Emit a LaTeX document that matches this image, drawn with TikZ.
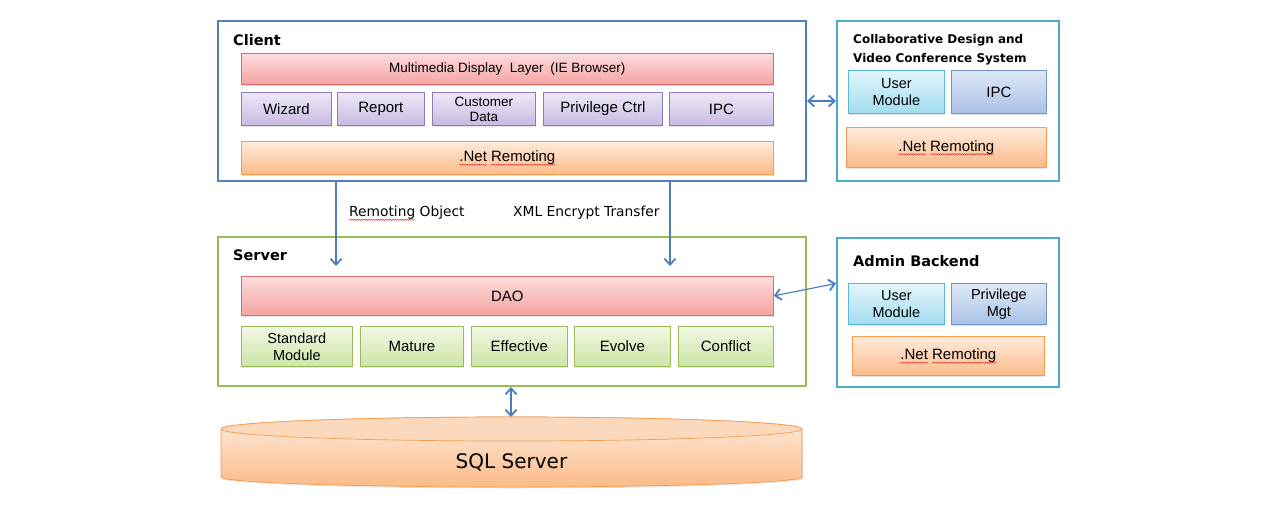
\documentclass[tikz,border=0pt]{standalone}
\usepackage{fontspec}
\setmainfont{Liberation Sans}
\newfontfamily\lucida{DejaVu Sans}
\usetikzlibrary{arrows.meta,shadows,decorations.pathmorphing}

\definecolor{clientblue}{HTML}{4F81BD}
\definecolor{systeal}{HTML}{4BACC6}
\definecolor{servergreen}{HTML}{9BBB59}
\definecolor{linkblue}{HTML}{4A7EC0}
\definecolor{spellred}{HTML}{E0302A}
\definecolor{redtop}{HTML}{FCDCDC}
\definecolor{redbot}{HTML}{F5A3A3}
\definecolor{redline}{HTML}{E06A6A}
\definecolor{purpletop}{HTML}{EEE8F7}
\definecolor{purplebot}{HTML}{C9BAE2}
\definecolor{purpleline}{HTML}{8C7DB8}
\definecolor{orangetop}{HTML}{FEEBDC}
\definecolor{orangebot}{HTML}{FBBB88}
\definecolor{orangeline}{HTML}{F59A4F}
\definecolor{greentop}{HTML}{F1F8E4}
\definecolor{greenbot}{HTML}{CDE4A6}
\definecolor{greenline}{HTML}{9BBB59}
\definecolor{cyantop}{HTML}{E3F6FC}
\definecolor{cyanbot}{HTML}{A2DCEF}
\definecolor{cyanline}{HTML}{5EB8D3}
\definecolor{bluetop}{HTML}{DFE8F5}
\definecolor{bluebot}{HTML}{A9C2E6}
\definecolor{blueline}{HTML}{6E94CC}
\definecolor{sqlcap}{HTML}{FCD9BC}

\newlength\netw \newlength\dotw \newlength\remw \newlength\rolw
\AtBeginDocument{%
  \settowidth\netw{\fontsize{15}{18}\selectfont .Net Remoting}%
  \settowidth\dotw{\fontsize{15}{18}\selectfont .Net}%
  \settowidth\remw{\fontsize{15}{18}\selectfont Remoting}%
  \settowidth\rolw{\lucida\fontsize{13.8}{16}\selectfont Remoting}}

\tikzset{
  frame/.style={draw=#1, line width=2pt, rectangle, anchor=north west, inner sep=0pt},
  module/.style={rectangle, draw=#1, line width=0.7pt, anchor=north west, inner sep=0pt,
    align=center, font=\fontsize{15}{17}\selectfont,
    drop shadow={opacity=0.22, shadow xshift=1pt, shadow yshift=-1.5pt}},
  redbar/.style={module=redline, top color=redtop, bottom color=redbot},
  purplebox/.style={module=purpleline, top color=purpletop, bottom color=purplebot},
  orangebar/.style={module=orangeline, top color=orangetop, bottom color=orangebot},
  greenbox/.style={module=greenline, top color=greentop, bottom color=greenbot},
  cyanbox/.style={module=cyanline, top color=cyantop, bottom color=cyanbot},
  bluebox/.style={module=blueline, top color=bluetop, bottom color=bluebot},
  title/.style={anchor=west, inner sep=0pt, font=\lucida\bfseries\fontsize{14.5}{17}\selectfont},
  note/.style={anchor=west, inner sep=0pt, font=\lucida\fontsize{13.8}{16}\selectfont},
  barb/.tip={Straight Barb[length=6pt,width=11pt,line width=1.8pt]},
  link/.style={draw=linkblue, line width=1.2pt, -barb},
  link2/.style={link, barb-barb},
  spell/.style={draw=spellred, line width=0.5pt, decorate,
    decoration={snake, amplitude=0.6pt, segment length=2.4pt}}
}

\begin{document}
\begin{tikzpicture}[x=1pt,y=-1pt]
\useasboundingbox (0,0) rectangle (1276,512);

% client
\node[frame=clientblue, minimum width=588, minimum height=160] (client) at (217,20) {};
\node[title] (clienttitle) at (233,40) {Client};
\node[redbar, minimum width=532, minimum height=31, font=\fontsize{13.5}{16}\selectfont] (display) at (241,53) {Multimedia Display\ \ Layer\hspace{.5em}(IE Browser)};
\node[purplebox, minimum width=90, minimum height=33] (wizard) at (241,92) {Wizard};
\node[purplebox, minimum width=87, minimum height=33] (report) at (337,92) {Report};
\node[purplebox, minimum width=103, minimum height=33, font=\fontsize{13.5}{15}\selectfont] (customer) at (432,92) {Customer\\Data};
\node[purplebox, minimum width=119, minimum height=33] (privctrl) at (543,92) {Privilege Ctrl};
\node[purplebox, minimum width=104, minimum height=33] (cipc) at (669,92) {IPC};
\node[orangebar, minimum width=532, minimum height=33] (cnet) at (241,141) {.Net Remoting};

% collaborative design
\node[frame=systeal, minimum width=222, minimum height=160] (collab) at (836,20) {};
\node[title, anchor=north west, align=left, font=\lucida\bfseries\fontsize{12}{19}\selectfont] (collabtitle) at (853,34) {Collaborative Design and\\Video Conference System};
\node[cyanbox, minimum width=96, minimum height=43, font=\fontsize{14.5}{17}\selectfont] (vuser) at (848,70) {User\\Module};
\node[bluebox, minimum width=95, minimum height=43] (vipc) at (951,70) {IPC};
\node[orangebar, minimum width=200, minimum height=40] (vnet) at (846,127) {.Net Remoting};

% server
\node[frame=servergreen, minimum width=588, minimum height=149] (server) at (217,236) {};
\node[title] (servertitle) at (233,255) {Server};
\node[redbar, minimum width=532, minimum height=39] (dao) at (241,276) {DAO};
\node[greenbox, minimum width=111, minimum height=40, font=\fontsize{14.5}{17}\selectfont] (standard) at (241,326) {Standard\\Module};
\node[greenbox, minimum width=103, minimum height=40] (mature) at (360,326) {Mature};
\node[greenbox, minimum width=96, minimum height=40] (effective) at (471,326) {Effective};
\node[greenbox, minimum width=96, minimum height=40] (evolve) at (574,326) {Evolve};
\node[greenbox, minimum width=95, minimum height=40] (conflict) at (678,326) {Conflict};

% admin backend
\node[frame=systeal, minimum width=222, minimum height=149] (admin) at (836,237) {};
\node[title] (admintitle) at (853,261) {Admin Backend};
\node[cyanbox, minimum width=96, minimum height=41, font=\fontsize{14.5}{17}\selectfont] (auser) at (848,283) {User\\Module};
\node[bluebox, minimum width=95, minimum height=41, font=\fontsize{14.5}{17}\selectfont] (apriv) at (951,283) {Privilege\\Mgt};
\node[orangebar, minimum width=192, minimum height=39] (anet) at (852,336) {.Net Remoting};

% database
\path[draw=orangeline, line width=0.7pt, top color=orangetop, bottom color=orangebot,
  drop shadow={opacity=0.2, shadow xshift=1pt, shadow yshift=-1.5pt}]
  (221,429) -- (221,477) arc[start angle=180, end angle=0, x radius=290.5, y radius=10]
  -- (802,429) arc[start angle=0, end angle=-180, x radius=290.5, y radius=12] -- cycle;
\draw[orangeline, line width=0.7pt, fill=sqlcap] (511.5,429) ellipse [x radius=290.5, y radius=12];
\node[font=\lucida\fontsize{20}{24}\selectfont] (sql) at (511.5,462) {SQL Server};
\coordinate (sqltop) at (511,417);

% connectors
\coordinate (roin) at (336,266);
\coordinate (xmlin) at (670,266);
\draw[link] (client.south -| roin) -- (roin);
\draw[link] (client.south -| xmlin) -- (xmlin);
\node[note] (rolabel) at (349,213) {Remoting Object};
\node[note] (xmllabel) at (513,213) {XML Encrypt Transfer};
\draw[link2] (client.east) -- (collab.west);
\draw[link2] (dao.east) -- ([yshift=29pt]admin.west);
\draw[link2] (server.south -| sqltop) -- (sqltop);

% spell check marks
\foreach \n in {cnet,vnet,anet}{
  \draw[spell] ([xshift=-0.5\netw, yshift=-3pt]\n.base) -- ++(\dotw,0);
  \draw[spell] ([xshift=0.5\netw-\remw, yshift=-3pt]\n.base) -- ++(\remw,0);
}
\draw[spell] ([yshift=-3pt]rolabel.base west) -- ++(\rolw,0);
\end{tikzpicture}
\end{document}
